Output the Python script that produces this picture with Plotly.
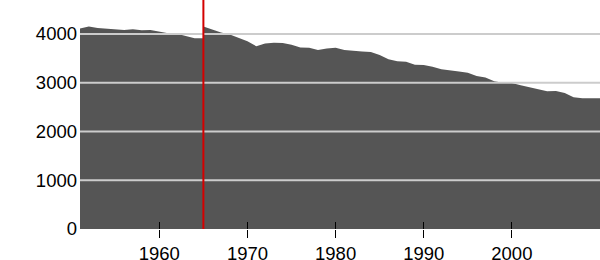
import plotly.graph_objects as go

years = [1951, 1952, 1953, 1954, 1955, 1956, 1957, 1958, 1959, 1960,
         1961, 1962, 1963, 1964, 1965, 1965, 1966, 1967, 1968, 1969, 1970,
         1971, 1972, 1973, 1974, 1975, 1976, 1977, 1978, 1979, 1980,
         1981, 1982, 1983, 1984, 1985, 1986, 1987, 1988, 1989, 1990,
         1991, 1992, 1993, 1994, 1995, 1996, 1997, 1998, 1999, 2000,
         2001, 2002, 2003, 2004, 2005, 2006, 2007, 2008, 2009, 2010]
values = [4110, 4155, 4125, 4105, 4100, 4080, 4095, 4075, 4080, 4040,
          4015, 4005, 3960, 3915, 3915, 4155, 4090, 4030, 3990, 3920, 3850,
          3750, 3805, 3820, 3815, 3780, 3725, 3720, 3670, 3700, 3720,
          3670, 3650, 3640, 3630, 3570, 3480, 3440, 3430, 3370, 3365,
          3330, 3275, 3260, 3230, 3205, 3140, 3105, 3030, 3000, 2995,
          2950, 2910, 2880, 2825, 2830, 2790, 2700, 2680, 2680, 2680]

x_ticks = [1960, 1970, 1980, 1990, 2000]
y_ticks = [0, 1000, 2000, 3000, 4000]
marker_year = 1965

x_range = [1951, 2010]
y_range = [0, 4697]

font = dict(family="Liberation Sans, Arial, sans-serif", size=18.5, color="#000")

fig = go.Figure()
fig.add_trace(go.Scatter(
    x=years, y=values, mode="lines", fill="tozeroy",
    fillcolor="#555555", line=dict(width=0, color="#555555"),
    hoverinfo="skip", showlegend=False,
))

shapes = []
for v in y_ticks[1:]:
    shapes.append(dict(type="line", xref="paper", yref="y", x0=0, x1=1, y0=v, y1=v,
                       line=dict(color="#cccccc", width=2), layer="above"))
shapes.append(dict(type="line", xref="x", yref="paper", x0=marker_year, x1=marker_year,
                   y0=0, y1=1, line=dict(color="#d40000", width=2), layer="above"))

fig.update_layout(
    width=600, height=260,
    margin=dict(l=80, r=0, t=0, b=31, autoexpand=False),
    paper_bgcolor="white", plot_bgcolor="white",
    font=font,
    shapes=shapes,
    xaxis=dict(range=x_range, tickvals=x_ticks, ticks="outside", ticklen=8,
               tickcolor="#000", tickwidth=1, showgrid=False, zeroline=False,
               showline=False, tickfont=font, automargin=False),
    xaxis2=dict(range=x_range, tickvals=x_ticks, ticks="inside", ticklen=7,
                tickcolor="#000", tickwidth=1, showgrid=False, zeroline=False,
                showline=False, showticklabels=False, overlaying="x", side="bottom",
                anchor="y", automargin=False),
    yaxis=dict(range=y_range, tickvals=y_ticks, ticks="", showgrid=False,
               zeroline=False, showline=False, tickfont=font, ticklabelstandoff=2,
               automargin=False),
)
fig.add_trace(go.Scatter(x=[x_range[0]], y=[0], xaxis="x2", mode="markers",
                         marker=dict(opacity=0), hoverinfo="skip", showlegend=False))

fig.write_html("out.html")
